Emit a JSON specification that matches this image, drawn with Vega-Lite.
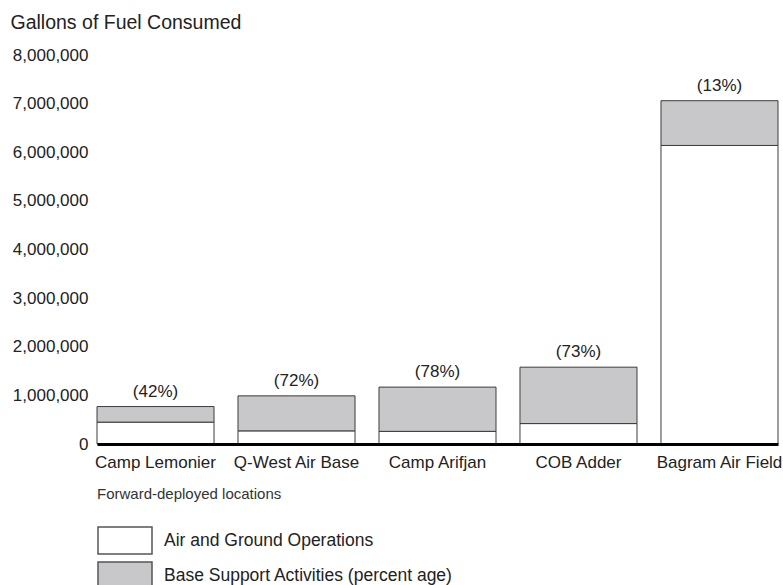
{
  "$schema": "https://vega.github.io/schema/vega-lite/v6.json",
  "width": 681,
  "height": 389,
  "autosize": {"type": "none"},
  "padding": {"left": 97, "top": 55, "right": 5, "bottom": 141},
  "background": "white",
  "config": {"view": {"stroke": null}, "font": "Liberation Sans"},
  "datasets": {
    "fuel": [
      {"location": "Camp Lemonier", "segment": "Air and Ground Operations", "value": 450000},
      {"location": "Camp Lemonier", "segment": "Base Support Activities (percent age)", "value": 320000},
      {"location": "Q-West Air Base", "segment": "Air and Ground Operations", "value": 270000},
      {"location": "Q-West Air Base", "segment": "Base Support Activities (percent age)", "value": 720000},
      {"location": "Camp Arifjan", "segment": "Air and Ground Operations", "value": 260000},
      {"location": "Camp Arifjan", "segment": "Base Support Activities (percent age)", "value": 910000},
      {"location": "COB Adder", "segment": "Air and Ground Operations", "value": 420000},
      {"location": "COB Adder", "segment": "Base Support Activities (percent age)", "value": 1160000},
      {"location": "Bagram Air Field", "segment": "Air and Ground Operations", "value": 6140000},
      {"location": "Bagram Air Field", "segment": "Base Support Activities (percent age)", "value": 920000}
    ],
    "labels": [
      {"location": "Camp Lemonier", "total": 770000, "label": "(42%)"},
      {"location": "Q-West Air Base", "total": 990000, "label": "(72%)"},
      {"location": "Camp Arifjan", "total": 1170000, "label": "(78%)"},
      {"location": "COB Adder", "total": 1580000, "label": "(73%)"},
      {"location": "Bagram Air Field", "total": 7060000, "label": "(13%)"}
    ]
  },
  "layer": [
    {
      "data": {"name": "fuel"},
      "mark": {"type": "bar", "stroke": "#3c3c3c", "strokeWidth": 1},
      "encoding": {
        "x": {
          "field": "location",
          "type": "nominal",
          "sort": ["Camp Lemonier", "Q-West Air Base", "Camp Arifjan", "COB Adder", "Bagram Air Field"],
          "scale": {"paddingInner": 0.17, "paddingOuter": 0},
          "axis": {
            "title": null,
            "labelAngle": 0,
            "labelFontSize": 17,
            "labelColor": "#222222",
            "labelLimit": 0,
            "ticks": false,
            "tickSize": 0,
            "labelPadding": 10,
            "domainColor": "#000000",
            "domainWidth": 3,
            "zindex": 2
          }
        },
        "y": {
          "field": "value",
          "type": "quantitative",
          "stack": "zero",
          "scale": {"domain": [0, 8000000]},
          "axis": {
            "title": "Gallons of Fuel Consumed",
            "titleAngle": 0,
            "titleX": -87,
            "titleY": -27,
            "titleAlign": "left",
            "titleBaseline": "alphabetic",
            "titleFontSize": 19.5,
            "titleFontWeight": "normal",
            "titleColor": "#222222",
            "titleLimit": 0,
            "values": [0, 1000000, 2000000, 3000000, 4000000, 5000000, 6000000, 7000000, 8000000],
            "format": ",.0f",
            "labelFontSize": 17,
            "labelColor": "#222222",
            "ticks": false,
            "tickSize": 0,
            "labelPadding": 9,
            "domain": false,
            "grid": false
          }
        },
        "order": {"field": "segment", "type": "nominal", "sort": "ascending"},
        "color": {
          "field": "segment",
          "type": "nominal",
          "scale": {
            "domain": ["Air and Ground Operations", "Base Support Activities (percent age)"],
            "range": ["#ffffff", "#c8c8ca"]
          },
          "legend": {
            "orient": "none",
            "legendX": 0,
            "legendY": 432,
            "title": "Forward-deployed locations",
            "titleFontSize": 15,
            "titleFontWeight": "normal",
            "titleColor": "#333333",
            "titleBaseline": "top",
            "titlePadding": 24,
            "titleLimit": 0,
            "labelFontSize": 17.5,
            "labelColor": "#222222",
            "labelLimit": 0,
            "symbolType": "M-1,-1H3V1H-1Z",
            "symbolSize": 729,
            "symbolStrokeColor": "#555555",
            "symbolStrokeWidth": 1.5,
            "symbolOpacity": 1,
            "labelOffset": 38,
            "rowPadding": 2,
            "padding": 0
          }
        }
      }
    },
    {
      "data": {"name": "labels"},
      "mark": {"type": "text", "baseline": "alphabetic", "dy": -10, "fontSize": 17, "color": "#222222"},
      "encoding": {
        "x": {
          "field": "location",
          "type": "nominal",
          "sort": ["Camp Lemonier", "Q-West Air Base", "Camp Arifjan", "COB Adder", "Bagram Air Field"]
        },
        "y": {"field": "total", "type": "quantitative"},
        "text": {"field": "label"}
      }
    }
  ]
}
